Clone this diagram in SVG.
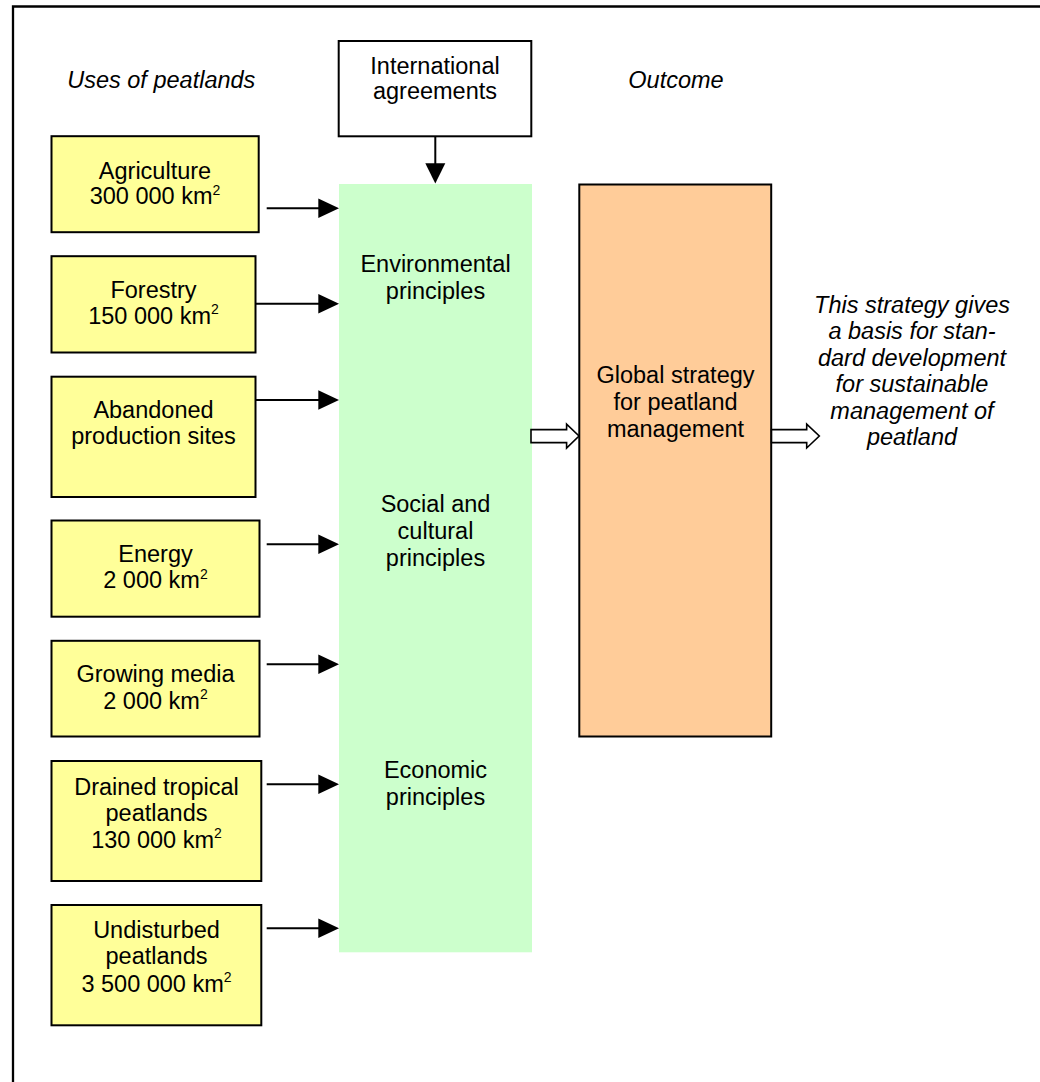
<svg xmlns="http://www.w3.org/2000/svg" width="1040" height="1082" viewBox="0 0 1040 1082">
  <style>
    text { font-family: "Liberation Sans", Arial, sans-serif; font-size: 23.5px; fill: #000; text-anchor: middle; }
    .it { font-style: italic; }
    .sup { font-size: 14px; }
    .use { fill: #FFFF99; stroke: #000; stroke-width: 2; }
    .plain { fill: #FFFFFF; stroke: #000; stroke-width: 2; }
    .principles { fill: #CCFFCC; stroke: none; }
    .strategy { fill: #FFCC99; stroke: #000; stroke-width: 2; }
    .line { stroke: #000; stroke-width: 2; fill: none; }
    .head { fill: #000; stroke: none; }
    .hollow { fill: #FFFFFF; stroke: #000; stroke-width: 1.6; stroke-linejoin: miter; }
  </style>

  <rect width="1040" height="1082" fill="#FFFFFF"/>

  <!-- page frame -->
  <path d="M13,1082 V6.5 H1040" fill="none" stroke="#000" stroke-width="2.3"/>

  <!-- column headings -->
  <g id="heading-uses">
    <text class="it" x="161.3" y="88.3">Uses of peatlands</text>
  </g>
  <g id="heading-outcome">
    <text class="it" x="676" y="87.5">Outcome</text>
  </g>

  <!-- top input -->
  <g id="international-agreements">
    <rect class="plain" x="338.7" y="41" width="192.6" height="95.3"/>
    <text x="435" y="74">International</text>
    <text x="435" y="99">agreements</text>
  </g>

  <!-- uses of peatlands -->
  <g id="agriculture">
    <rect class="use" x="51.5" y="136.2" width="207.2" height="96"/>
    <text x="155" y="178.5">Agriculture</text>
    <text x="155" y="204">300 000 km<tspan class="sup" dy="-9.5">2</tspan></text>
  </g>
  <g id="forestry">
    <rect class="use" x="51.5" y="256.2" width="204" height="96.3"/>
    <text x="153.5" y="298">Forestry</text>
    <text x="153.5" y="323.5">150 000 km<tspan class="sup" dy="-9.5">2</tspan></text>
  </g>
  <g id="abandoned-sites">
    <rect class="use" x="51.5" y="376.7" width="204" height="120.3"/>
    <text x="153.5" y="418">Abandoned</text>
    <text x="153.5" y="444">production sites</text>
  </g>
  <g id="energy">
    <rect class="use" x="51.5" y="520.5" width="208" height="96.2"/>
    <text x="155.5" y="562">Energy</text>
    <text x="155.5" y="588">2 000 km<tspan class="sup" dy="-9.5">2</tspan></text>
  </g>
  <g id="growing-media">
    <rect class="use" x="51.5" y="640.8" width="208" height="95.7"/>
    <text x="155.5" y="682">Growing media</text>
    <text x="155.5" y="708.5">2 000 km<tspan class="sup" dy="-9.5">2</tspan></text>
  </g>
  <g id="drained-tropical">
    <rect class="use" x="51.5" y="761" width="209.8" height="120"/>
    <text x="156.5" y="794.5">Drained tropical</text>
    <text x="156.5" y="820.7">peatlands</text>
    <text x="156.5" y="847.5">130 000 km<tspan class="sup" dy="-9.5">2</tspan></text>
  </g>
  <g id="undisturbed">
    <rect class="use" x="51.5" y="905" width="209.8" height="120.3"/>
    <text x="156.5" y="937.7">Undisturbed</text>
    <text x="156.5" y="964.2">peatlands</text>
    <text x="156.5" y="991.7">3 500 000 km<tspan class="sup" dy="-9.5">2</tspan></text>
  </g>

  <!-- principles column -->
  <g id="principles">
    <rect class="principles" x="339" y="184" width="193" height="768.3"/>
    <text x="435.5" y="272">Environmental</text>
    <text x="435.5" y="298.5">principles</text>
    <text x="435.5" y="511.7">Social and</text>
    <text x="435.5" y="538.5">cultural</text>
    <text x="435.5" y="565.5">principles</text>
    <text x="435.5" y="778.3">Economic</text>
    <text x="435.5" y="804.8">principles</text>
  </g>

  <!-- outcome -->
  <g id="global-strategy">
    <rect class="strategy" x="579.3" y="184.5" width="191.9" height="552"/>
    <text x="675.5" y="382.5">Global strategy</text>
    <text x="675.5" y="409.5">for peatland</text>
    <text x="675.5" y="437">management</text>
  </g>

  <g id="strategy-note">
    <text class="it" x="912" y="312.5">This strategy gives</text>
    <text class="it" x="912" y="339">a basis for stan-</text>
    <text class="it" x="912" y="365.7">dard development</text>
    <text class="it" x="912" y="392.3">for sustainable</text>
    <text class="it" x="912" y="418.7">management of</text>
    <text class="it" x="912" y="445">peatland</text>
  </g>

  <!-- connectors -->
  <g id="connectors">
    <!-- agreements into principles -->
    <line class="line" x1="435.3" y1="137" x2="435.3" y2="165"/>
    <polygon class="head" points="425.3,163.3 445.3,163.3 435.3,183.6"/>

    <!-- uses into principles -->
    <line class="line" x1="266.7" y1="208.3" x2="320" y2="208.3"/>
    <polygon class="head" points="318.3,198.5 339,208.3 318.3,218.1"/>

    <line class="line" x1="256" y1="303.7" x2="320" y2="303.7"/>
    <polygon class="head" points="318.3,293.9 339,303.7 318.3,313.5"/>

    <line class="line" x1="256" y1="400" x2="320" y2="400"/>
    <polygon class="head" points="318.3,390.2 339,400 318.3,409.8"/>

    <line class="line" x1="266.7" y1="544.3" x2="320" y2="544.3"/>
    <polygon class="head" points="318.3,534.5 339,544.3 318.3,554.1"/>

    <line class="line" x1="266.7" y1="664.3" x2="320" y2="664.3"/>
    <polygon class="head" points="318.3,654.5 339,664.3 318.3,674.1"/>

    <line class="line" x1="266.7" y1="784.3" x2="320" y2="784.3"/>
    <polygon class="head" points="318.3,774.5 339,784.3 318.3,794.1"/>

    <line class="line" x1="266.7" y1="928.3" x2="320" y2="928.3"/>
    <polygon class="head" points="318.3,918.5 339,928.3 318.3,938.1"/>

    <!-- principles to strategy, strategy to note -->
    <polygon class="hollow" points="531,429.6 566.6,429.6 566.6,424.2 579,436 566.6,448 566.6,442.6 531,442.6"/>
    <polygon class="hollow" points="771.5,429.6 806.7,429.6 806.7,424.2 819.3,436 806.7,448 806.7,442.6 771.5,442.6"/>
  </g>
</svg>
